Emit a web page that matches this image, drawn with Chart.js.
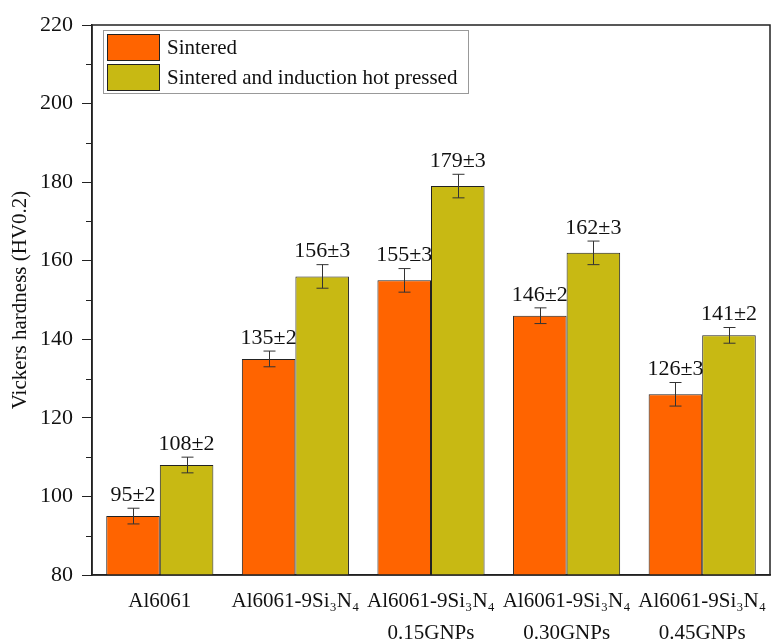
<!DOCTYPE html>
<html lang="en">
<head>
    <meta charset="UTF-8">
    <title>Vickers hardness</title>
    <script src="https://cdn.jsdelivr.net/npm/chart.js"></script>
    <style>
        html, body { margin: 0; padding: 0; background: #fff; }
        #wrap { width: 781px; height: 641px; }
    </style>
</head>
<body>
    <div id="wrap"><canvas id="hardnessChart" width="781" height="641"></canvas></div>
    <script>
        // data
        const categories = [
            ['Al6061'],
            ['Al6061-9Si\u2083N\u2084'],
            ['Al6061-9Si\u2083N\u2084', '0.15GNPs'],
            ['Al6061-9Si\u2083N\u2084', '0.30GNPs'],
            ['Al6061-9Si\u2083N\u2084', '0.45GNPs']
        ];
        const sintered = [95, 135, 155, 146, 126];
        const sinteredErr = [2, 2, 3, 2, 3];
        const pressed = [108, 156, 179, 162, 141];
        const pressedErr = [2, 3, 3, 3, 2];
        const seriesNames = ['Sintered', 'Sintered and induction hot pressed'];

        const FONT = '"Liberation Serif", "Times New Roman", serif';
        const ORANGE = '#ff6400';
        const OLIVE = '#c8b913';
        const INK = '#111';
        const errs = [sinteredErr, pressedErr];

        // error bars + value labels
        const errorBars = {
            id: 'errorBars',
            afterDatasetsDraw(chart) {
                const ctx = chart.ctx;
                const y = chart.scales.y;
                ctx.save();
                ctx.strokeStyle = '#333';
                ctx.lineWidth = 1;
                ctx.fillStyle = INK;
                ctx.font = '22px ' + FONT;
                ctx.textAlign = 'center';
                ctx.textBaseline = 'bottom';
                chart.data.datasets.forEach((ds, di) => {
                    chart.getDatasetMeta(di).data.forEach((bar, i) => {
                        const v = ds.data[i], e = errs[di][i];
                        const top = y.getPixelForValue(v + e);
                        const bot = y.getPixelForValue(v - e);
                        const x = Math.round(bar.x) + 0.5;
                        ctx.beginPath();
                        ctx.moveTo(x, top); ctx.lineTo(x, bot);
                        ctx.moveTo(x - 6, top); ctx.lineTo(x + 6, top);
                        ctx.moveTo(x - 6, bot); ctx.lineTo(x + 6, bot);
                        ctx.stroke();
                        ctx.fillText(v + '\u00b1' + e, bar.x, top - 2);
                    });
                });
                ctx.restore();
            }
        };

        // frame, minor ticks and boxed legend
        const frame = {
            id: 'frame',
            afterDraw(chart) {
                const ctx = chart.ctx;
                const a = chart.chartArea;
                const y = chart.scales.y;
                ctx.save();
                ctx.strokeStyle = '#222';
                ctx.lineWidth = 1.5;
                ctx.strokeRect(a.left, a.top, a.right - a.left, a.bottom - a.top);
                ctx.lineWidth = 1;
                for (let v = y.min + 10; v < y.max; v += 20) {
                    const py = Math.round(y.getPixelForValue(v)) + 0.5;
                    ctx.beginPath();
                    ctx.moveTo(a.left - 6, py); ctx.lineTo(a.left, py);
                    ctx.stroke();
                }
                // legend
                const lx = a.left + 11, ly = a.top + 5;
                ctx.fillStyle = '#fff';
                ctx.fillRect(lx, ly, 365, 63);
                ctx.strokeStyle = '#999';
                ctx.strokeRect(lx + 0.5, ly + 0.5, 365, 63);
                ctx.font = '21px ' + FONT;
                ctx.textAlign = 'left';
                ctx.textBaseline = 'middle';
                [ORANGE, OLIVE].forEach((c, i) => {
                    const sy = ly + 4 + i * 30;
                    ctx.fillStyle = c;
                    ctx.fillRect(lx + 4, sy, 53, 27);
                    ctx.strokeStyle = '#222';
                    ctx.strokeRect(lx + 4.5, sy + 0.5, 52, 26);
                    ctx.fillStyle = INK;
                    ctx.fillText(seriesNames[i], lx + 64, sy + 14);
                });
                ctx.restore();
            }
        };

        new Chart(document.getElementById('hardnessChart'), {
            type: 'bar',
            data: {
                labels: categories,
                datasets: [{
                    label: seriesNames[0],
                    data: sintered,
                    backgroundColor: ORANGE,
                    borderColor: '#222',
                    borderWidth: 1
                }, {
                    label: seriesNames[1],
                    data: pressed,
                    backgroundColor: OLIVE,
                    borderColor: '#222',
                    borderWidth: 1
                }]
            },
            options: {
                responsive: false,
                animation: false,
                layout: { padding: { top: 25, right: 11, left: 0, bottom: 0 } },
                plugins: {
                    legend: { display: false },
                    tooltip: { enabled: false }
                },
                datasets: {
                    bar: { categoryPercentage: 0.79, barPercentage: 1 }
                },
                scales: {
                    x: {
                        grid: { display: false, drawTicks: false },
                        border: { display: true, color: '#222', width: 1.5 },
                        ticks: {
                            color: INK,
                            font: { family: FONT, size: 21, lineHeight: 1.5 },
                            padding: 11,
                            maxRotation: 0,
                            autoSkip: false
                        },
                        afterFit(scale) { scale.height = 66; }
                    },
                    y: {
                        min: 80,
                        max: 220,
                        grid: {
                            drawOnChartArea: false,
                            tickLength: 10,
                            color: '#222'
                        },
                        border: { display: true, color: '#222', width: 1.5 },
                        ticks: {
                            stepSize: 20,
                            color: INK,
                            padding: 9,
                            font: { family: FONT, size: 22 }
                        },
                        title: {
                            display: true,
                            text: 'Vickers hardness (HV0.2)',
                            color: INK,
                            font: { family: FONT, size: 21 },
                            padding: { top: 8, bottom: 0 }
                        },
                        afterFit(scale) { scale.width = 92; }
                    }
                }
            },
            plugins: [errorBars, frame]
        });
    </script>
</body>
</html>
